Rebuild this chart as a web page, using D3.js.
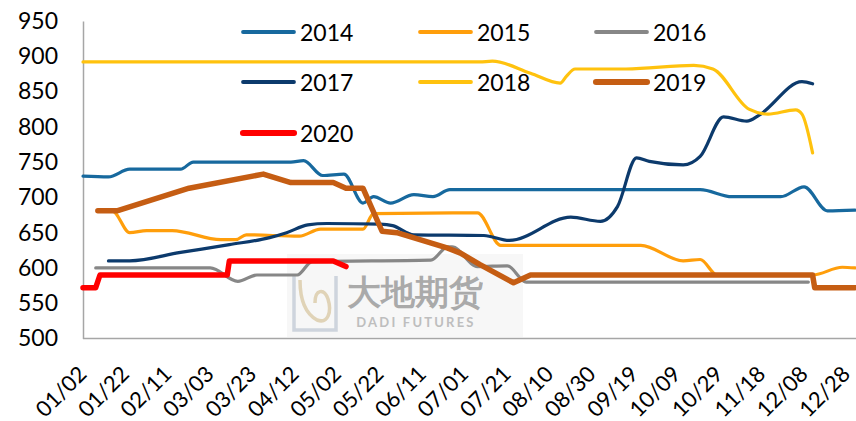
<!DOCTYPE html>
<html>
<head>
<meta charset="utf-8">
<script src="https://cdn.jsdelivr.net/npm/d3@7"></script>
<style>
  html, body { margin: 0; padding: 0; background: #ffffff; }
  svg { display: block; }
  text { font-family: Lato, "Liberation Sans", sans-serif; }
</style>
</head>
<body>
<svg id="chart" width="856" height="421"></svg>
<script>
// ---------------- data ----------------
const xTickLabels = ["01/02","01/22","02/11","03/03","03/23","04/12","05/02","05/22","06/11","07/01",
                     "07/21","08/10","08/30","09/19","10/09","10/29","11/18","12/08","12/28"];
const yTicks = [500, 550, 600, 650, 700, 750, 800, 850, 900, 950];
const seriesNames = ["2014","2015","2016","2017","2018","2019","2020"];

const s2014 = [["01/01",730],["01/13",729],["01/23",740],["02/16",740],["02/22",750],["04/09",750],
  ["04/15",752],["04/24",731],["05/04",733],["05/13",692],["05/18",701],["05/26",692],["06/06",704],
  ["06/15",701],["06/23",711],["10/19",711],["11/03",701],["11/26",701],["12/07",715],["12/18",681],["12/31",682]];
const s2015 = [["01/08",680],["01/15",680],["01/23",650],["01/31",653],["02/12",653],["03/07",640],
  ["03/14",640],["03/19",647],["04/13",645],["04/23",655],["05/13",655],["05/18",677],["07/06",678],
  ["07/17",632],["09/21",632],["10/11",610],["10/19",612],["10/27",590],["12/11",590],["12/25",601],["12/31",600]];
const s2016 = [["01/07",600],["03/02",600],["03/15",581],["03/24",590],["04/12",590],["04/19",609],
  ["06/14",611],["06/22",630],["06/24",630],["07/06",602],["07/20",603],["07/29",580],["12/09",580]];
const s2017 = [["01/13",610],["01/23",610],["02/16",622],["03/11",633],["03/30",643],["04/07",650],
  ["04/17",661],["04/26",663],["05/21",662],["05/27",660],["06/06",647],["07/09",646],["07/21",639],
  ["08/19",672],["09/02",666],["09/10",687],["09/19",756],["09/25",751],["10/11",746],["10/19",758],
  ["10/30",814],["11/10",808],["11/16",817],["12/06",864],["12/11",861]];
const s2018 = [["01/01",892],["07/07",892],["07/13",893],["07/31",876],["08/14",862],["08/17",872],
  ["08/21",882],["09/14",882],["10/16",887],["10/25",882],["11/11",825],["11/20",818],["12/03",824],
  ["12/06",818],["12/11",763]];
const s2019 = [["01/08",681],["01/17",681],["02/20",713],["03/27",733],["04/09",721],["04/29",721],
  ["05/05",713],["05/13",713],["05/22",652],["05/29",650],["06/22",628],["06/28",621],["07/07",605],
  ["07/23",579],["07/31",590],["12/11",590],["12/12",572],["12/31",572]];
const s2020 = [["01/01",572],["01/07",572],["01/09",590],["03/10",590],["03/11",610],["04/29",610],["05/05",602]];

const seriesData = [s2014, s2015, s2016, s2017, s2018, s2019, s2020];

// ---------------- styles ----------------
const colors = ["#17699E", "#FF9E0B", "#878787", "#0C3A6C", "#FFC20E", "#C55D13", "#FF0000"];
const widths = [3.2, 3.2, 3.2, 3.2, 3.2, 5.5, 5.5];
const smooth = [true, true, true, true, true, false, false];

// ---------------- scales ----------------
const parse = s => d3.timeParse("%Y/%m/%d")("2001/" + s);
const svg = d3.select("#chart");
const x = d3.scaleTime().domain([parse("01/01"), parse("12/31")]).range([83, 855]);
const y = d3.scaleLinear().domain([500, 950]).range([338.5, 21]);

// ---------------- watermark ----------------
const wm = svg.append("g").attr("class", "watermark");
wm.append("rect").attr("x", 287).attr("y", 254).attr("width", 236).attr("height", 83)
  .attr("fill", "#f6f6f6").attr("opacity", 0.9);
wm.append("path").attr("d", "M294,276 L294,330 L336,330 L336,276")
  .attr("fill", "none").attr("stroke", "#c3cad6").attr("stroke-width", 3.5).attr("opacity", 0.8);
wm.append("path").attr("d", "M300,280 C300,302 306,314 317,320 C328,324 332,312 328,299 C324,288 315,289 315,303")
  .attr("fill", "none").attr("stroke", "#d9c9a6").attr("stroke-width", 3.5).attr("opacity", 0.8);
wm.append("text").attr("x", 415).attr("y", 304).attr("text-anchor", "middle")
  .attr("font-family", "'Noto Sans CJK SC', sans-serif").attr("font-size", 34).attr("font-weight", 700)
  .attr("fill", "#8a8a8a").attr("opacity", 0.7).text("大地期货");
wm.append("text").attr("x", 416).attr("y", 327).attr("text-anchor", "middle")
  .attr("font-size", 13).attr("font-weight", 700).attr("letter-spacing", 2.2)
  .attr("fill", "#b0b0b0").attr("opacity", 0.8).text("DADI FUTURES");

// ---------------- axes ----------------
const yAxis = svg.append("g").attr("transform", "translate(83,0)")
  .call(d3.axisLeft(y).tickValues(yTicks).tickSize(0).tickPadding(25).tickFormat(d3.format("d")));
yAxis.select(".domain").attr("stroke", "#a6a6a6").attr("stroke-width", 1.5);
yAxis.selectAll("text").attr("font-size", 23).attr("fill", "#000").attr("font-family", "Lato, sans-serif");

const xAxis = svg.append("g").attr("transform", "translate(0,338.5)")
  .call(d3.axisBottom(x).tickValues(xTickLabels.map(parse)).tickSize(0).tickFormat(d3.timeFormat("%m/%d")));
xAxis.select(".domain").attr("stroke", "#a6a6a6").attr("stroke-width", 1.5)
  .attr("d", "M83,0H856");
xAxis.selectAll("text")
  .attr("x", 0).attr("y", 0).attr("dy", 0)
  .attr("text-anchor", "end")
  .attr("transform", "translate(2.5,37) rotate(-45)")
  .attr("font-size", 22).attr("fill", "#000").attr("font-family", "Lato, sans-serif");

// ---------------- lines ----------------
const lines = svg.append("g");
seriesData.forEach((data, i) => {
  const gen = d3.line()
    .x(d => x(parse(d[0])))
    .y(d => y(d[1]))
    .curve(smooth[i] ? d3.curveMonotoneX : d3.curveLinear);
  lines.append("path").datum(data)
    .attr("d", gen)
    .attr("fill", "none")
    .attr("stroke", colors[i])
    .attr("stroke-width", widths[i])
    .attr("stroke-linejoin", "round")
    .attr("stroke-linecap", "round");
});

// ---------------- legend ----------------
const legendCols = [241, 418, 594];
const legendRows = [32, 82, 133];
const legend = svg.append("g");
seriesNames.forEach((name, i) => {
  const cx = legendCols[i % 3], cy = legendRows[Math.floor(i / 3)];
  const g = legend.append("g").attr("transform", `translate(${cx},${cy})`);
  g.append("line").attr("x1", 2).attr("x2", 53).attr("y1", 0).attr("y2", 0)
    .attr("stroke", colors[i]).attr("stroke-width", widths[i] + 0.6).attr("stroke-linecap", "round");
  g.append("text").attr("x", 59).attr("y", 8.5).attr("font-size", 23).attr("fill", "#000").text(name);
});
</script>
</body>
</html>
